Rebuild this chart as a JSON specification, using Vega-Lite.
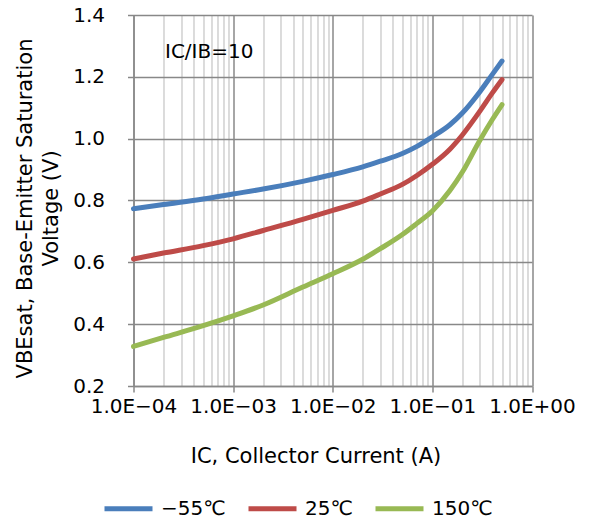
{
  "$schema": "https://vega.github.io/schema/vega-lite/v6.json",
  "autosize": "none",
  "width": 398.5,
  "height": 371,
  "padding": {"left": 133.5, "top": 15, "right": 62, "bottom": 139},
  "background": "white",
  "config": {"view": {"stroke": null}, "font": "DejaVu Sans"},
  "datasets": {
    "curves": [
      {"temp": "−55℃", "ic": 0.0001, "vbe": 0.773},
      {"temp": "−55℃", "ic": 0.0002, "vbe": 0.787},
      {"temp": "−55℃", "ic": 0.0005, "vbe": 0.805},
      {"temp": "−55℃", "ic": 0.001, "vbe": 0.821},
      {"temp": "−55℃", "ic": 0.002, "vbe": 0.837},
      {"temp": "−55℃", "ic": 0.005, "vbe": 0.862},
      {"temp": "−55℃", "ic": 0.01, "vbe": 0.884},
      {"temp": "−55℃", "ic": 0.02, "vbe": 0.909},
      {"temp": "−55℃", "ic": 0.03, "vbe": 0.927},
      {"temp": "−55℃", "ic": 0.05, "vbe": 0.952},
      {"temp": "−55℃", "ic": 0.07, "vbe": 0.975},
      {"temp": "−55℃", "ic": 0.1, "vbe": 1.006},
      {"temp": "−55℃", "ic": 0.15, "vbe": 1.045},
      {"temp": "−55℃", "ic": 0.2, "vbe": 1.083},
      {"temp": "−55℃", "ic": 0.3, "vbe": 1.152},
      {"temp": "−55℃", "ic": 0.4, "vbe": 1.208},
      {"temp": "−55℃", "ic": 0.5, "vbe": 1.251},
      {"temp": "25℃", "ic": 0.0001, "vbe": 0.611},
      {"temp": "25℃", "ic": 0.0002, "vbe": 0.630},
      {"temp": "25℃", "ic": 0.0005, "vbe": 0.654},
      {"temp": "25℃", "ic": 0.001, "vbe": 0.676},
      {"temp": "25℃", "ic": 0.002, "vbe": 0.703},
      {"temp": "25℃", "ic": 0.005, "vbe": 0.739},
      {"temp": "25℃", "ic": 0.01, "vbe": 0.768},
      {"temp": "25℃", "ic": 0.02, "vbe": 0.798},
      {"temp": "25℃", "ic": 0.03, "vbe": 0.821},
      {"temp": "25℃", "ic": 0.05, "vbe": 0.852},
      {"temp": "25℃", "ic": 0.07, "vbe": 0.881},
      {"temp": "25℃", "ic": 0.1, "vbe": 0.917},
      {"temp": "25℃", "ic": 0.15, "vbe": 0.966},
      {"temp": "25℃", "ic": 0.2, "vbe": 1.012},
      {"temp": "25℃", "ic": 0.3, "vbe": 1.089},
      {"temp": "25℃", "ic": 0.4, "vbe": 1.148},
      {"temp": "25℃", "ic": 0.5, "vbe": 1.191},
      {"temp": "150℃", "ic": 0.0001, "vbe": 0.328},
      {"temp": "150℃", "ic": 0.0002, "vbe": 0.357},
      {"temp": "150℃", "ic": 0.0005, "vbe": 0.395},
      {"temp": "150℃", "ic": 0.001, "vbe": 0.427},
      {"temp": "150℃", "ic": 0.002, "vbe": 0.462},
      {"temp": "150℃", "ic": 0.005, "vbe": 0.520},
      {"temp": "150℃", "ic": 0.01, "vbe": 0.563},
      {"temp": "150℃", "ic": 0.02, "vbe": 0.610},
      {"temp": "150℃", "ic": 0.03, "vbe": 0.644},
      {"temp": "150℃", "ic": 0.05, "vbe": 0.690},
      {"temp": "150℃", "ic": 0.07, "vbe": 0.726},
      {"temp": "150℃", "ic": 0.1, "vbe": 0.766},
      {"temp": "150℃", "ic": 0.15, "vbe": 0.832},
      {"temp": "150℃", "ic": 0.2, "vbe": 0.892},
      {"temp": "150℃", "ic": 0.3, "vbe": 0.995},
      {"temp": "150℃", "ic": 0.4, "vbe": 1.062},
      {"temp": "150℃", "ic": 0.5, "vbe": 1.110}
    ]
  },
  "layer": [
    {
      "data": {"name": "curves"},
      "mark": {"type": "line", "strokeWidth": 5, "interpolate": "monotone", "strokeCap": "round"},
      "encoding": {
        "x": {
          "field": "ic", "type": "quantitative",
          "scale": {"type": "log", "domain": [0.0001, 1]},
          "axis": {
            "values": [0.0001, 0.0002, 0.0003, 0.0004, 0.0005, 0.0006, 0.0007, 0.0008, 0.0009,
                       0.001, 0.002, 0.003, 0.004, 0.005, 0.006, 0.007, 0.008, 0.009,
                       0.01, 0.02, 0.03, 0.04, 0.05, 0.06, 0.07, 0.08, 0.09,
                       0.1, 0.2, 0.3, 0.4, 0.5, 0.6, 0.7, 0.8, 0.9, 1],
            "labelExpr": "datum.value == 0.0001 ? '1.0E−04' : datum.value == 0.001 ? '1.0E−03' : datum.value == 0.01 ? '1.0E−02' : datum.value == 0.1 ? '1.0E−01' : datum.value == 1 ? '1.0E+00' : ''",
            "labelOverlap": false,
            "labelFlush": false,
            "labelFontSize": 20,
            "labelColor": "#000000",
            "labelPadding": 4,
            "grid": true,
            "gridColor": {"condition": {"test": "indexof([0.0001, 0.001, 0.01, 0.1, 1], datum.value) >= 0", "value": "#888888"}, "value": "#c4c4c4"},
            "gridWidth": {"condition": {"test": "indexof([0.0001, 0.001, 0.01, 0.1, 1], datum.value) >= 0", "value": 1.5}, "value": 1.2},
            "tickSize": {"condition": {"test": "indexof([0.0001, 0.001, 0.01, 0.1, 1], datum.value) >= 0", "value": 6}, "value": 0},
            "tickColor": "#888888",
            "tickWidth": 1.5,
            "domainColor": "#888888",
            "domainWidth": 1.5,
            "title": "IC, Collector Current (A)",
            "titleFontSize": 21,
            "titleFontWeight": "normal",
            "titleColor": "#000000",
            "titleX": 182,
            "titleY": 76,
            "titleBaseline": "alphabetic",
            "titleAlign": "center"
          }
        },
        "y": {
          "field": "vbe", "type": "quantitative",
          "scale": {"domain": [0.2, 1.4], "nice": false, "zero": false},
          "axis": {
            "values": [0.2, 0.4, 0.6, 0.8, 1.0, 1.2, 1.4],
            "format": ".1f",
            "labelFontSize": 20,
            "labelColor": "#000000",
            "labelPadding": 23,
            "grid": true,
            "gridColor": "#888888",
            "gridWidth": 1.5,
            "tickSize": 6,
            "tickColor": "#888888",
            "tickWidth": 1.5,
            "domainColor": "#888888",
            "domainWidth": 1.5,
            "title": ["VBEsat, Base-Emitter Saturation", "Voltage (V)"],
            "titleFontSize": 21,
            "titleFontWeight": "normal",
            "titleColor": "#000000",
            "titleX": -108,
            "titleY": 193,
            "titleBaseline": "middle",
            "titleAlign": "center",
            "titleLineHeight": 26
          }
        },
        "color": {
          "field": "temp", "type": "nominal",
          "scale": {"domain": ["−55℃", "25℃", "150℃"], "range": ["#4a7ebb", "#be4b48", "#98b954"]},
          "legend": {
            "orient": "none",
            "legendX": -31.5,
            "legendY": 467,
            "direction": "horizontal",
            "title": null,
            "symbolType": "stroke",
            "symbolStrokeWidth": 5,
            "symbolSize": 2304,
            "labelFontSize": 20,
            "labelColor": "#000000",
            "labelOffset": 6,
            "columnPadding": 12
          }
        }
      }
    },
    {
      "data": {"values": [{"note": "IC/IB=10"}]},
      "mark": {"type": "text", "align": "left", "baseline": "alphabetic", "fontSize": 20, "color": "#000000"},
      "encoding": {
        "x": {"datum": 0.000207, "type": "quantitative"},
        "y": {"datum": 1.261, "type": "quantitative"},
        "text": {"field": "note"}
      }
    }
  ]
}
